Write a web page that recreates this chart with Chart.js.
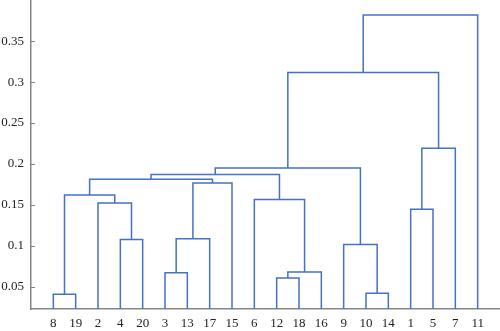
<!DOCTYPE html>
<html>
<head>
<meta charset="utf-8">
<script src="https://cdn.jsdelivr.net/npm/chart.js@4.4.1/dist/chart.umd.min.js"></script>
<style>
  html, body { margin: 0; padding: 0; background: #fff; }
  #wrap { width: 500px; height: 331px; }
</style>
</head>
<body>
<div id="wrap"><canvas id="dendro"></canvas></div>
<script>
// leaf labels in the order they appear along the x axis
const leafOrder = [8, 19, 2, 4, 20, 3, 13, 17, 15, 6, 12, 18, 16, 9, 10, 14, 1, 5, 7, 11];
const leafCount = 20;

// linkage rows: row k makes cluster leafCount + k (k starting at 1)
const mergeLeft   = [8, 10, 12, 3, 23, 9, 4, 24, 1, 2, 6, 21, 28, 32, 34, 35, 29, 36, 38];
const mergeRight  = [19, 14, 18, 13, 16, 22, 20, 17, 5, 27, 25, 30, 15, 33, 31, 26, 7, 37, 11];
const mergeHeight = [0.0407, 0.0419, 0.0606, 0.0671, 0.0679, 0.1017, 0.1078, 0.1085, 0.1447, 0.1524,
                     0.1566, 0.1622, 0.1768, 0.1813, 0.1872, 0.1951, 0.2191, 0.3118, 0.3822];

const yTicks = [0.05, 0.1, 0.15, 0.2, 0.25, 0.3, 0.35];
const yTickLabels = ['0.05', '0.1', '0.15', '0.2', '0.25', '0.3', '0.35'];

const lineColor = '#4472c4';
const axisColor = '#858585';

// node positions: leaves sit at their slot, clusters at the middle of their children
const nodeX = {};
const nodeY = {};
leafOrder.forEach((leaf, i) => { nodeX[leaf] = i + 1; nodeY[leaf] = 0; });

const datasets = [];
mergeLeft.forEach((a, k) => {
    const b = mergeRight[k];
    const h = mergeHeight[k];
    const id = leafCount + k + 1;
    nodeX[id] = (nodeX[a] + nodeX[b]) / 2;
    nodeY[id] = h;
    datasets.push({
        data: [
            { x: nodeX[a], y: nodeY[a] },
            { x: nodeX[a], y: h },
            { x: nodeX[b], y: h },
            { x: nodeX[b], y: nodeY[b] }
        ],
        showLine: true,
        borderColor: lineColor,
        borderWidth: 1.5,
        pointRadius: 0,
        tension: 0,
        borderJoinStyle: 'miter',
        clip: 0
    });
});

// small inward tick marks on the y axis
const innerTicks = {
    id: 'innerTicks',
    afterDraw(chart) {
        const ctx = chart.ctx;
        const ys = chart.scales.y;
        ctx.save();
        ctx.strokeStyle = axisColor;
        ctx.lineWidth = 1;
        yTicks.forEach(v => {
            const py = Math.round(ys.getPixelForValue(v)) + 0.5;
            ctx.beginPath();
            ctx.moveTo(ys.right, py);
            ctx.lineTo(ys.right + 4, py);
            ctx.stroke();
        });
        ctx.restore();
    }
};

const ctx = document.getElementById('dendro').getContext('2d');
new Chart(ctx, {
    type: 'scatter',
    data: { datasets: datasets },
    plugins: [innerTicks],
    options: {
        responsive: true,
        maintainAspectRatio: false,
        animation: false,
        layout: { padding: 0 },
        plugins: {
            legend: { display: false },
            tooltip: { enabled: false }
        },
        scales: {
            x: {
                type: 'linear',
                min: 0,
                max: leafCount + 1,
                afterBuildTicks: scale => {
                    scale.ticks = leafOrder.map((_, i) => ({ value: i + 1 }));
                },
                afterFit: scale => {
                    scale.height = 22;
                    scale.paddingLeft = 0;
                    scale.paddingRight = 0;
                },
                ticks: {
                    autoSkip: false,
                    maxRotation: 0,
                    padding: 7,
                    color: '#222',
                    font: { family: '"Liberation Serif", "DejaVu Serif", serif', size: 13 },
                    callback: v => String(leafOrder[v - 1])
                },
                grid: { display: false, drawTicks: false },
                border: { display: true, color: axisColor, width: 1.5 }
            },
            y: {
                type: 'linear',
                min: 0.0228,
                max: 0.4004,
                afterBuildTicks: scale => {
                    scale.ticks = yTicks.map(v => ({ value: v }));
                },
                afterFit: scale => {
                    scale.width = 31;
                    scale.paddingTop = 0;
                    scale.paddingBottom = 0;
                },
                ticks: {
                    padding: 7,
                    color: '#222',
                    font: { family: '"Liberation Serif", "DejaVu Serif", serif', size: 13 },
                    callback: v => yTickLabels[yTicks.indexOf(v)] ?? ''
                },
                grid: { display: false, drawTicks: false },
                border: { display: true, color: axisColor, width: 1.5 }
            }
        }
    }
});
</script>
</body>
</html>
